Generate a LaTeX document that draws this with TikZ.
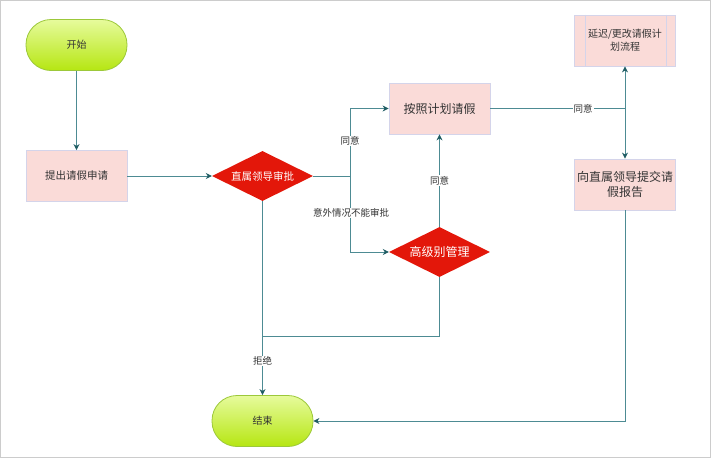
\documentclass[tikz,border=0pt]{standalone}
\usepackage{fontspec}
\setmainfont{Noto Sans CJK SC}
\usetikzlibrary{arrows.meta,shapes.geometric}
\definecolor{lc}{HTML}{4D8B93}
\definecolor{ac}{HTML}{1F5C63}
\definecolor{pf}{HTML}{FADBD8}
\definecolor{bc}{HTML}{D4D4EA}
\definecolor{dr}{HTML}{E3170A}
\definecolor{gt}{HTML}{E6FB9C}
\definecolor{gb}{HTML}{B6E612}
\definecolor{gd}{HTML}{9CC83A}
\definecolor{tx}{HTML}{333333}
\begin{document}
\begin{tikzpicture}[x=1pt,y=-1pt,
  line/.style={draw=lc, line width=0.9pt},
  arr/.style={line, -{Stealth[length=6pt,width=6pt,color=ac]}},
  proc/.style={rectangle, draw=bc, fill=pf, line width=0.8pt, minimum width=101pt, minimum height=51pt, inner sep=2pt, align=center, text=tx},
  term/.style={rectangle, rounded corners=25pt, draw=gd, line width=0.8pt, top color=gt, bottom color=gb, minimum width=101pt, minimum height=51pt, inner sep=0pt, font=\fontsize{10}{12}\selectfont, text=tx},
  dec/.style={diamond, aspect=2, fill=dr, minimum width=101pt, minimum height=50pt, inner sep=0pt, text=white, font=\fontsize{10.5}{12}\selectfont},
  lab/.style={fill=white, inner sep=1pt, text=tx, font=\fontsize{9.5}{11}\selectfont}
]
\useasboundingbox (0,0) rectangle (711,458);
\draw[draw=black!20, line width=1pt] (0.5,0.5) rectangle (710.5,457.5);

\node[term] (start) at (76.5,45) {开始};
\node[proc, font=\fontsize{10.5}{12}\selectfont] (apply) at (76.5,176) {提出请假申请};
\node[dec] (d1) at (262.5,176) {直属领导审批};
\node[proc, font=\fontsize{12}{14}\selectfont] (plan) at (439.5,108.5) {按照计划请假};
\node[dec, font=\fontsize{12}{14}\selectfont] (d2) at (439.5,252) {高级别管理};
\node[term] (end) at (262.5,421) {结束};
\node[proc, font=\fontsize{10}{13}\selectfont] (delay) at (625,40.5) {延迟/更改请假计\\划流程};
\draw[draw=bc, line width=0.8pt] ([xshift=11pt]delay.north west) -- ([xshift=11pt]delay.south west);
\draw[draw=bc, line width=0.8pt] ([xshift=-10pt]delay.north east) -- ([xshift=-10pt]delay.south east);
\node[proc, font=\fontsize{12}{14.5}\selectfont] (report) at (625,184.5) {向直属领导提交请\\假报告};

\coordinate (j1) at (350,176);
\coordinate (j2) at (262.5,336);
\coordinate (j3) at (625,108.5);

\draw[arr] (start) -- (apply);
\draw[arr] (apply) -- (d1);
\draw[line] (d1.east) -- (j1);
\draw[arr] (j1) |- (plan.west);
\draw[arr] (j1) |- (d2.west);
\node[lab] at (350,141) {同意};
\node[lab] at (351,213) {意外情况不能审批};
\draw[arr] (d2.north) -- node[lab] {同意} (plan.south);
\draw[line] (d2.south) |- (j2);
\draw[arr] (d1.south) -- (end.north);
\node[lab] at (262.5,361) {拒绝};
\draw[line] (plan.east) -- (j3);
\node[lab] at (583,108.5) {同意};
\draw[arr] (j3) -- (delay.south);
\draw[arr] (j3) -- (report.north);
\draw[arr] (report.south) |- (end.east);
\end{tikzpicture}
\end{document}
